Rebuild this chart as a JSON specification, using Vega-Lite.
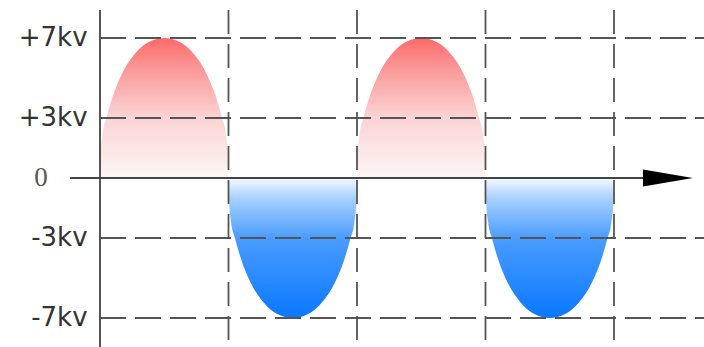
{
  "$schema": "https://vega.github.io/schema/vega-lite/v6.json",
  "width": 604,
  "height": 347,
  "autosize": {"type": "none"},
  "padding": {"left": 100, "top": 0, "right": 0, "bottom": 0},
  "background": "white",
  "config": {"view": {"stroke": null}},
  "datasets": {
    "wave": [
      {"arch": 1, "half": "pos", "x": 0.0, "v": 0},
      {"arch": 1, "half": "pos", "x": 0.005, "v": 1.2},
      {"arch": 1, "half": "pos", "x": 0.02, "v": 2.2},
      {"arch": 1, "half": "pos", "x": 0.05, "v": 3.0},
      {"arch": 1, "half": "pos", "x": 0.1, "v": 4.1},
      {"arch": 1, "half": "pos", "x": 0.17, "v": 5.2},
      {"arch": 1, "half": "pos", "x": 0.27, "v": 6.2},
      {"arch": 1, "half": "pos", "x": 0.38, "v": 6.8},
      {"arch": 1, "half": "pos", "x": 0.5, "v": 7.0},
      {"arch": 1, "half": "pos", "x": 0.62, "v": 6.8},
      {"arch": 1, "half": "pos", "x": 0.73, "v": 6.2},
      {"arch": 1, "half": "pos", "x": 0.83, "v": 5.2},
      {"arch": 1, "half": "pos", "x": 0.9, "v": 4.1},
      {"arch": 1, "half": "pos", "x": 0.95, "v": 3.0},
      {"arch": 1, "half": "pos", "x": 0.98, "v": 2.2},
      {"arch": 1, "half": "pos", "x": 0.995, "v": 1.2},
      {"arch": 1, "half": "pos", "x": 1.0, "v": 0},
      {"arch": 2, "half": "neg", "x": 1.0, "v": 0},
      {"arch": 2, "half": "neg", "x": 1.005, "v": -1.2},
      {"arch": 2, "half": "neg", "x": 1.02, "v": -2.2},
      {"arch": 2, "half": "neg", "x": 1.05, "v": -3.0},
      {"arch": 2, "half": "neg", "x": 1.1, "v": -4.1},
      {"arch": 2, "half": "neg", "x": 1.17, "v": -5.2},
      {"arch": 2, "half": "neg", "x": 1.27, "v": -6.2},
      {"arch": 2, "half": "neg", "x": 1.38, "v": -6.8},
      {"arch": 2, "half": "neg", "x": 1.5, "v": -7.0},
      {"arch": 2, "half": "neg", "x": 1.62, "v": -6.8},
      {"arch": 2, "half": "neg", "x": 1.73, "v": -6.2},
      {"arch": 2, "half": "neg", "x": 1.83, "v": -5.2},
      {"arch": 2, "half": "neg", "x": 1.9, "v": -4.1},
      {"arch": 2, "half": "neg", "x": 1.95, "v": -3.0},
      {"arch": 2, "half": "neg", "x": 1.98, "v": -2.2},
      {"arch": 2, "half": "neg", "x": 1.995, "v": -1.2},
      {"arch": 2, "half": "neg", "x": 2.0, "v": 0},
      {"arch": 3, "half": "pos", "x": 2.0, "v": 0},
      {"arch": 3, "half": "pos", "x": 2.005, "v": 1.2},
      {"arch": 3, "half": "pos", "x": 2.02, "v": 2.2},
      {"arch": 3, "half": "pos", "x": 2.05, "v": 3.0},
      {"arch": 3, "half": "pos", "x": 2.1, "v": 4.1},
      {"arch": 3, "half": "pos", "x": 2.17, "v": 5.2},
      {"arch": 3, "half": "pos", "x": 2.27, "v": 6.2},
      {"arch": 3, "half": "pos", "x": 2.38, "v": 6.8},
      {"arch": 3, "half": "pos", "x": 2.5, "v": 7.0},
      {"arch": 3, "half": "pos", "x": 2.62, "v": 6.8},
      {"arch": 3, "half": "pos", "x": 2.73, "v": 6.2},
      {"arch": 3, "half": "pos", "x": 2.83, "v": 5.2},
      {"arch": 3, "half": "pos", "x": 2.9, "v": 4.1},
      {"arch": 3, "half": "pos", "x": 2.95, "v": 3.0},
      {"arch": 3, "half": "pos", "x": 2.98, "v": 2.2},
      {"arch": 3, "half": "pos", "x": 2.995, "v": 1.2},
      {"arch": 3, "half": "pos", "x": 3.0, "v": 0},
      {"arch": 4, "half": "neg", "x": 3.0, "v": 0},
      {"arch": 4, "half": "neg", "x": 3.005, "v": -1.2},
      {"arch": 4, "half": "neg", "x": 3.02, "v": -2.2},
      {"arch": 4, "half": "neg", "x": 3.05, "v": -3.0},
      {"arch": 4, "half": "neg", "x": 3.1, "v": -4.1},
      {"arch": 4, "half": "neg", "x": 3.17, "v": -5.2},
      {"arch": 4, "half": "neg", "x": 3.27, "v": -6.2},
      {"arch": 4, "half": "neg", "x": 3.38, "v": -6.8},
      {"arch": 4, "half": "neg", "x": 3.5, "v": -7.0},
      {"arch": 4, "half": "neg", "x": 3.62, "v": -6.8},
      {"arch": 4, "half": "neg", "x": 3.73, "v": -6.2},
      {"arch": 4, "half": "neg", "x": 3.83, "v": -5.2},
      {"arch": 4, "half": "neg", "x": 3.9, "v": -4.1},
      {"arch": 4, "half": "neg", "x": 3.95, "v": -3.0},
      {"arch": 4, "half": "neg", "x": 3.98, "v": -2.2},
      {"arch": 4, "half": "neg", "x": 3.995, "v": -1.2},
      {"arch": 4, "half": "neg", "x": 4.0, "v": 0}
    ],
    "hgrid": [{"v": 7}, {"v": 3}, {"v": -3}, {"v": -7}],
    "vgrid": [{"x": 1}, {"x": 2}, {"x": 3}, {"x": 4}],
    "labels": [
      {"label": "+7kv", "v": 7},
      {"label": "+3kv", "v": 3},
      {"label": "-3kv", "v": -3},
      {"label": "-7kv", "v": -7}
    ],
    "zero": [{"label": "0", "v": 0}],
    "arrow": [{"x": 4.42, "v": 0}]
  },
  "layer": [
    {
      "data": {"name": "wave"},
      "transform": [{"filter": "datum.half == 'pos'"}],
      "mark": {
        "type": "area",
        "interpolate": "monotone",
        "fill": {
          "gradient": "linear", "x1": 0, "y1": 0, "x2": 0, "y2": 1,
          "stops": [
            {"offset": 0, "color": "#ff6a6a"},
            {"offset": 0.2, "color": "#fb9494"},
            {"offset": 0.57, "color": "#fad4d4"},
            {"offset": 1, "color": "#fdf6f6"}
          ]
        }
      },
      "encoding": {
        "x": {"field": "x", "type": "quantitative", "scale": {"domain": [0, 4.7004], "nice": false, "zero": false}, "axis": null},
        "y": {"field": "v", "type": "quantitative", "scale": {"domain": [-8.45, 8.9], "nice": false, "zero": false}, "axis": null},
        "y2": {"datum": 0},
        "detail": {"field": "arch"}
      }
    },
    {
      "data": {"name": "wave"},
      "transform": [{"filter": "datum.half == 'neg'"}],
      "mark": {
        "type": "area",
        "interpolate": "monotone",
        "fill": {
          "gradient": "linear", "x1": 0, "y1": 0, "x2": 0, "y2": 1,
          "stops": [
            {"offset": 0, "color": "#f4f9ff"},
            {"offset": 0.15, "color": "#a6d0ff"},
            {"offset": 0.43, "color": "#4a9cff"},
            {"offset": 1, "color": "#0a78ff"}
          ]
        }
      },
      "encoding": {
        "x": {"field": "x", "type": "quantitative"},
        "y": {"field": "v", "type": "quantitative"},
        "y2": {"datum": 0},
        "detail": {"field": "arch"}
      }
    },
    {
      "data": {"name": "hgrid"},
      "mark": {"type": "rule", "color": "#555555", "strokeWidth": 1.8, "strokeDash": [26, 9]},
      "encoding": {
        "y": {"field": "v", "type": "quantitative"},
        "x": {"datum": 0},
        "x2": {"datum": 4.7004}
      }
    },
    {
      "data": {"name": "vgrid"},
      "mark": {"type": "rule", "color": "#555555", "strokeWidth": 1.8, "strokeDash": [24, 10]},
      "encoding": {
        "x": {"field": "x", "type": "quantitative"},
        "y": {"datum": 8.4},
        "y2": {"datum": -8.45}
      }
    },
    {
      "data": {"values": [{"x": 0}]},
      "mark": {"type": "rule", "color": "#555555", "strokeWidth": 2},
      "encoding": {
        "x": {"field": "x", "type": "quantitative"},
        "y": {"datum": 8.4},
        "y2": {"datum": -8.45}
      }
    },
    {
      "data": {"values": [{"x": -0.233, "x2": 4.25}]},
      "mark": {"type": "rule", "color": "#444444", "strokeWidth": 2, "clip": false},
      "encoding": {
        "x": {"field": "x", "type": "quantitative"},
        "x2": {"field": "x2"},
        "y": {"datum": 0}
      }
    },
    {
      "data": {"name": "arrow"},
      "mark": {"type": "point", "shape": "M-1,-0.34L1,0L-1,0.34Z", "filled": true, "color": "#000000", "opacity": 1, "size": 2500},
      "encoding": {
        "x": {"field": "x", "type": "quantitative"},
        "y": {"field": "v", "type": "quantitative"}
      }
    },
    {
      "data": {"name": "labels"},
      "mark": {"type": "text", "font": "DejaVu Sans", "fontSize": 26, "color": "#333333", "align": "right", "baseline": "middle", "clip": false},
      "encoding": {
        "x": {"datum": -0.097},
        "y": {"field": "v", "type": "quantitative"},
        "text": {"field": "label"}
      }
    },
    {
      "data": {"name": "zero"},
      "mark": {"type": "text", "font": "Liberation Serif", "fontSize": 27, "color": "#555555", "align": "center", "baseline": "middle", "clip": false},
      "encoding": {
        "x": {"datum": -0.459},
        "y": {"field": "v", "type": "quantitative"},
        "text": {"field": "label"}
      }
    }
  ]
}
